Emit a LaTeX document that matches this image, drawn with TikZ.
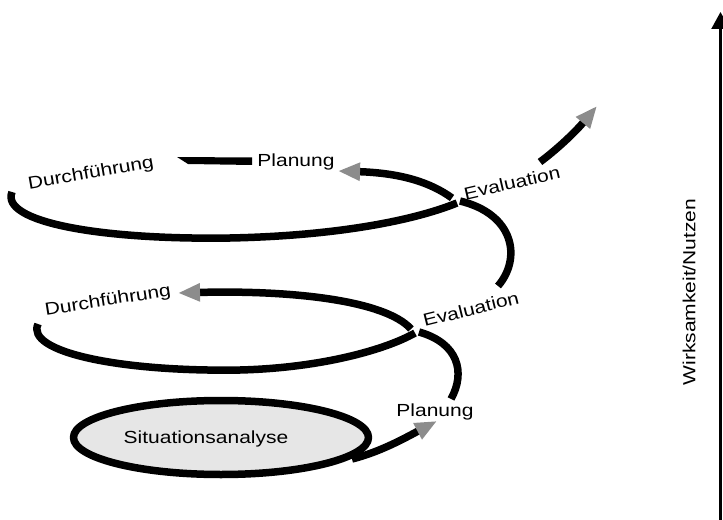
\documentclass[tikz,border=0pt]{standalone}
\usepackage{fontspec}
\setmainfont[FakeStretch=1.2]{Liberation Sans}
\usetikzlibrary{arrows.meta}
\usetikzlibrary{shapes.geometric}
\definecolor{tipgray}{RGB}{140,140,140}
\definecolor{ringfill}{RGB}{230,230,230}

\begin{document}
\begin{tikzpicture}[x=1bp,y=-1bp,line join=round,
  ring/.style={draw=black,line width=7.5bp},
  ring_arrow/.style={ring,-{Triangle[length=22bp,width=17bp,color=tipgray]}},
  lbl/.style={font=\fontsize{17.5bp}{20bp}\selectfont,inner sep=0pt},
  axis/.style={draw=black,line width=2.3bp,-{Triangle[length=17bp,width=18bp]}}]
\useasboundingbox (0,0) rectangle (723,520);
%%
\node (node_sit) at (221,437.5) [ellipse,draw,line width=7.5bp,fill=ringfill,minimum width=295bp,minimum height=74bp,inner sep=0pt] {};
  \node (node_sit_txt) at (206,439) [lbl] {Situationsanalyse};
  \node (node_plan_a) at (435,412) [lbl] {Planung};
  \node (node_durch_a) at (108,301) [lbl,rotate=9] {Durchführung};
  \node (node_eval_a) at (471,309) [lbl,rotate=14] {Evaluation};
  \node (node_plan_b) at (296,162) [lbl] {Planung};
  \node (node_durch_b) at (91,174) [lbl,rotate=10] {Durchführung};
  \node (node_eval_b) at (512,183) [lbl,rotate=13] {Evaluation};
  \node (node_axis) at (689,292) [lbl,rotate=90] {Wirksamkeit/Nutzen};
%
  \coordinate (sit_out) at (352,459);
  \coordinate (plan_a_tip) at (437,421);
  \coordinate (rise_a_bot) at (451,399);
  \coordinate (eval_a_join) at (419,332);
  \coordinate (ring2_right) at (411,329);
  \coordinate (durch_a_tip) at (178,293);
  \coordinate (ring2_left) at (38,324);
  \coordinate (ring2_join) at (415,333);
  \coordinate (rise_b_bot) at (498,286);
  \coordinate (rise_b_top) at (460,201);
  \coordinate (ring3_right) at (452,198);
  \coordinate (plan_b_tip) at (338,171);
  \coordinate (ring3_left) at (12,192);
  \coordinate (ring3_join) at (457,203);
  \coordinate (out_bot) at (540,162);
  \coordinate (out_tip) at (597,106);
  \coordinate (axis_bot) at (720.5,520);
  \coordinate (axis_top) at (720.5,12);
%
  \draw [ring_arrow] (sit_out) ..controls (380,452) and (405,438) .. (plan_a_tip);
  \draw [ring] (rise_a_bot) ..controls (466,372) and (458,343) .. (eval_a_join);
  \draw [ring_arrow] (ring2_right) ..controls (385,300) and (290,290) .. (durch_a_tip);
  \draw [ring] (ring2_left) ..controls (25,352) and (120,372) .. (240,370) ..controls (320,368) and (385,350) .. (ring2_join);
  \draw [ring] (rise_b_bot) ..controls (522,258) and (514,214) .. (rise_b_top);
  \draw [ring_arrow] (ring3_right) ..controls (430,182) and (400,173) .. (plan_b_tip);
  \draw [ring] (ring3_left) ..controls (0,222) and (100,240) .. (230,238) ..controls (330,236) and (410,222) .. (ring3_join);
  \fill [black] (177,157) -- (252,157.5) -- (252,165) -- (188,164) -- cycle;
  \draw [ring_arrow] (out_bot) ..controls (560,147) and (577,130) .. (out_tip);
  \draw [axis] (axis_bot) -- (axis_top);
%
\end{tikzpicture}
\end{document}
